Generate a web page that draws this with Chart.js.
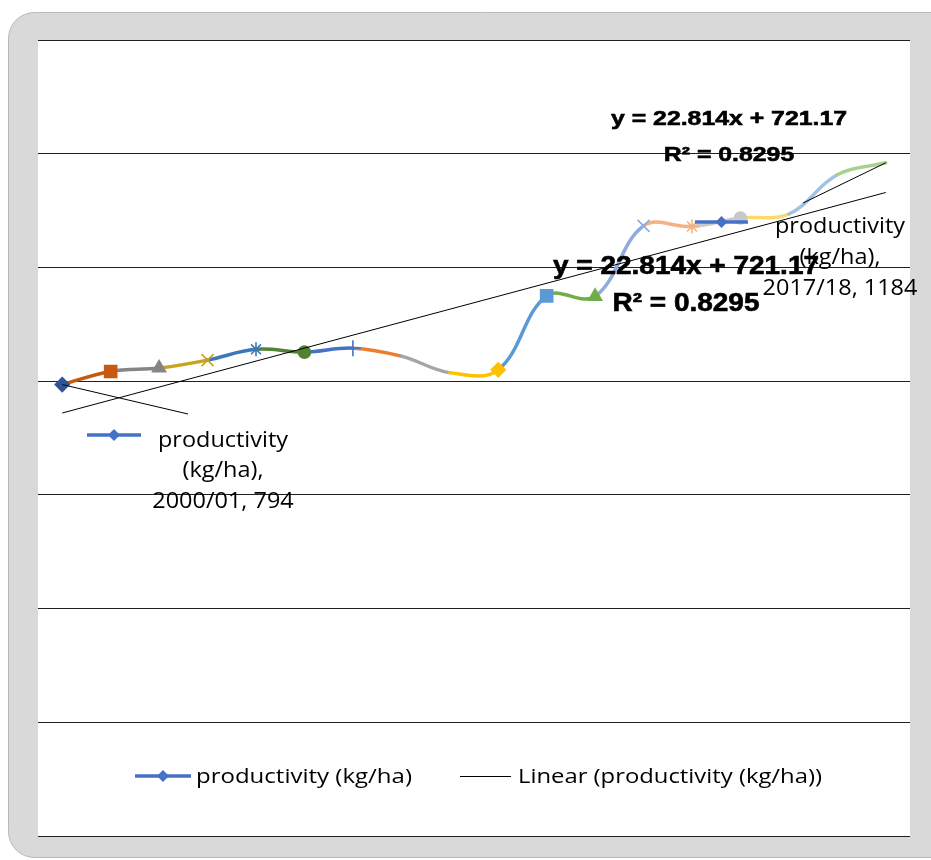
<!DOCTYPE html>
<html>
<head>
<meta charset="utf-8">
<script src="https://cdn.jsdelivr.net/npm/chart.js@4.4.1/dist/chart.umd.min.js"></script>
<style>
  html, body { margin: 0; padding: 0; background: #ffffff; }
  canvas { display: block; }
</style>
</head>
<body>
<canvas id="chart" width="931" height="860"></canvas>
<script>
// Seasons on the category axis
const seasons = [
  '2000/01', '2001/02', '2002/03', '2003/04', '2004/05', '2005/06',
  '2006/07', '2007/08', '2008/09', '2009/10', '2010/11', '2011/12',
  '2012/13', '2013/14', '2014/15', '2015/16', '2016/17', '2017/18'
];

// Productivity (kg/ha) per season
const productivity = [
  794, 817, 823, 837, 856, 851,
  858, 844, 815, 820, 950, 949,
  1073, 1072, 1087, 1094, 1163, 1184
];

// Linear trend: y = 22.814x + 721.17, evaluated at the first and last season
const trendline = [
  743.98, null, null, null, null, null,
  null, null, null, null, null, null,
  null, null, null, null, null, 1131.82
];

// Value axis ticks (labels hidden)
const yTicks = [0, 200, 400, 600, 800, 1000, 1200, 1400];

const seriesName = 'productivity (kg/ha)';
const trendName = 'Linear (productivity (kg/ha))';
const equationText = 'y = 22.814x + 721.17';
const rSquaredText = 'R\u00B2 = 0.8295';

// Per-point colours (varied by point)
const pointColors = [
  '#2F5597', '#C55A11', '#858585', '#C9A21E', '#3F78BA', '#548235',
  '#4472C4', '#ED7D31', '#A5A5A5', '#FFC000', '#5B9BD5', '#70AD47',
  '#8FAADC', '#F4B183', '#C9C9C9', '#FFD966', '#9DC3E6', '#A9D18E'
];
const pointStyles = [
  'rectRot', 'rect', 'triangle', 'crossRot', 'star', 'circle',
  'cross', 'circle', 'circle', 'rectRot', 'rect', 'triangle',
  'crossRot', 'star', 'circle', 'circle', 'circle', 'circle'
];
const pointSizes = [
  7, 8.5, 7.5, 8.5, 7, 6,
  8, 0, 0, 7, 8.5, 7.5,
  8.5, 7, 6, 0, 0, 0
];

const TEXT_FONT = '"Open Sans", "Liberation Sans", sans-serif';
const EQ_FONT = '"Liberation Sans", Arial, sans-serif';

// Draw text horizontally stretched so the first line reaches a given width
function textBlock(ctx, lines, cx, baselines, font, firstWidth, align, weight) {
  ctx.save();
  ctx.font = font;
  const sx = firstWidth / ctx.measureText(lines[0]).width;
  ctx.fillStyle = '#000000';
  ctx.strokeStyle = '#000000';
  ctx.lineWidth = weight || 0;
  ctx.textAlign = align || 'center';
  ctx.textBaseline = 'alphabetic';
  lines.forEach((t, i) => {
    ctx.save();
    ctx.translate(cx, baselines[i]);
    ctx.scale(sx, 1);
    ctx.fillText(t, 0, 0);
    if (weight) ctx.strokeText(t, 0, 0);
    ctx.restore();
  });
  ctx.restore();
}

function seriesKey(ctx, x1, x2, y) {
  ctx.save();
  ctx.strokeStyle = '#4472C4';
  ctx.lineWidth = 3.5;
  ctx.beginPath();
  ctx.moveTo(x1, y);
  ctx.lineTo(x2, y);
  ctx.stroke();
  const m = (x1 + x2) / 2, r = 6;
  ctx.fillStyle = '#4472C4';
  ctx.beginPath();
  ctx.moveTo(m, y - r); ctx.lineTo(m + r, y); ctx.lineTo(m, y + r); ctx.lineTo(m - r, y);
  ctx.closePath();
  ctx.fill();
  ctx.restore();
}

function thinLine(ctx, x1, y1, x2, y2) {
  ctx.save();
  ctx.strokeStyle = '#000000';
  ctx.lineWidth = 1;
  ctx.beginPath();
  ctx.moveTo(x1, y1);
  ctx.lineTo(x2, y2);
  ctx.stroke();
  ctx.restore();
}

// Grey frame behind the white plot area
const framePlugin = {
  id: 'frame',
  beforeDraw(chart) {
    const ctx = chart.ctx;
    const a = chart.chartArea;
    ctx.save();
    ctx.fillStyle = '#ffffff';
    ctx.fillRect(0, 0, chart.width, chart.height);
    ctx.beginPath();
    ctx.roundRect(8.5, 12.5, 980, 845, 26);
    ctx.fillStyle = '#d9d9d9';
    ctx.fill();
    ctx.strokeStyle = '#b8b8b8';
    ctx.lineWidth = 1;
    ctx.stroke();
    ctx.fillStyle = '#ffffff';
    ctx.fillRect(a.left, a.top, a.right - a.left, a.bottom - a.top);
    ctx.restore();
  }
};

// Data labels, trend equations and legend
const notesPlugin = {
  id: 'notes',
  afterDraw(chart) {
    const ctx = chart.ctx;
    const xs = chart.scales.x, ys = chart.scales.y;
    const last = productivity.length - 1;
    const p0 = { x: xs.getPixelForValue(0), y: ys.getPixelForValue(productivity[0]) };
    const pN = { x: xs.getPixelForValue(last), y: ys.getPixelForValue(productivity[last]) };

    // leader lines from the labelled points
    thinLine(ctx, p0.x, p0.y, 188, 414);
    thinLine(ctx, pN.x, pN.y, 803, 203);

    // first point label
    seriesKey(ctx, 87, 141, 435);
    textBlock(ctx, ['productivity', '(kg/ha),', seasons[0] + ', ' + productivity[0]],
      223, [447, 477, 508], '22px ' + TEXT_FONT, 130);

    // last point label
    seriesKey(ctx, 695, 748, 222);
    textBlock(ctx, ['productivity', '(kg/ha),', seasons[last] + ', ' + productivity[last]],
      840, [233, 264, 295], '22px ' + TEXT_FONT, 130);

    // trendline equations
    textBlock(ctx, [equationText, rSquaredText], 729, [125, 161],
      'bold 21px ' + EQ_FONT, 236, 'center', 0.6);
    textBlock(ctx, [equationText, rSquaredText], 686, [274, 311],
      'bold 25px ' + EQ_FONT, 266, 'center', 0.6);

    // legend
    seriesKey(ctx, 135, 191, 776);
    textBlock(ctx, [seriesName], 196, [783], '20px ' + TEXT_FONT, 216, 'left');
    thinLine(ctx, 460, 776.5, 511, 776.5);
    textBlock(ctx, [trendName], 518, [783], '20px ' + TEXT_FONT, 304, 'left');
  }
};

new Chart(document.getElementById('chart'), {
  type: 'line',
  data: {
    labels: seasons,
    datasets: [
      {
        label: trendName,
        data: trendline,
        spanGaps: true,
        borderColor: '#000000',
        borderWidth: 1,
        pointRadius: 0,
        tension: 0,
        order: 0
      },
      {
        label: seriesName,
        data: productivity,
        borderWidth: 3.5,
        borderCapStyle: 'round',
        borderJoinStyle: 'round',
        tension: 0.38,
        segment: {
          borderColor: c => pointColors[c.p1DataIndex]
        },
        borderColor: pointColors[0],
        pointStyle: pointStyles,
        pointRadius: pointSizes,
        pointBackgroundColor: pointColors,
        pointBorderColor: pointColors,
        pointBorderWidth: 1.6,
        order: 1
      }
    ]
  },
  options: {
    responsive: false,
    animation: false,
    devicePixelRatio: 1,
    events: [],
    layout: { padding: { left: 38, top: 40, right: 21, bottom: 24 } },
    plugins: {
      legend: { display: false },
      tooltip: { enabled: false }
    },
    scales: {
      x: {
        type: 'category',
        offset: true,
        display: false
      },
      y: {
        min: yTicks[0],
        max: yTicks[yTicks.length - 1],
        afterBuildTicks: s => { s.ticks = yTicks.map(v => ({ value: v })); },
        ticks: { display: false },
        grid: { color: '#1f1f1f', lineWidth: 1, drawTicks: false },
        border: { display: false }
      }
    }
  },
  plugins: [framePlugin, notesPlugin]
});
</script>
</body>
</html>
